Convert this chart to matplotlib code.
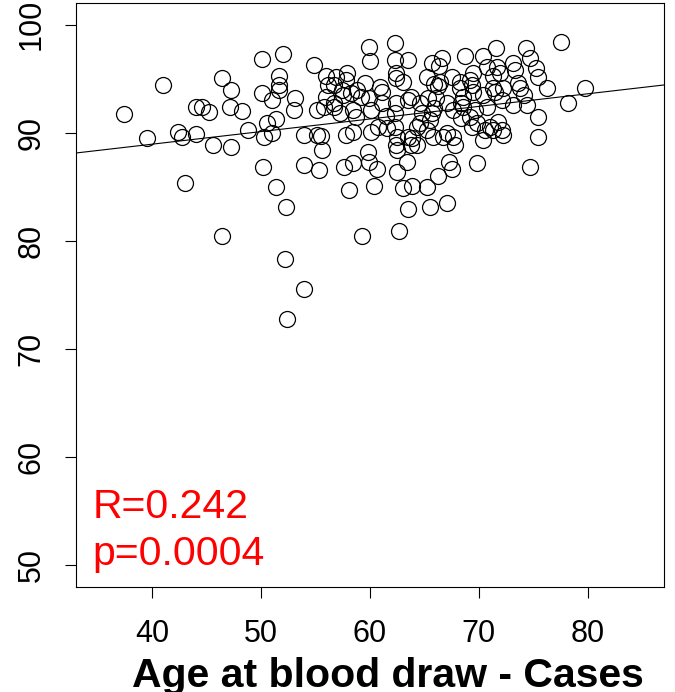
import numpy as np
import matplotlib
matplotlib.use("Agg")
import matplotlib.pyplot as plt

age = [37.4, 39.5, 41.0, 42.4, 42.7, 43.0, 44.0, 44.0, 44.6, 45.2,
       45.6, 46.4, 46.4, 47.2, 47.1, 47.2, 48.2, 48.8, 50.1, 50.1,
       50.2, 50.5, 50.3, 51.0, 51.0, 51.4, 51.4, 51.6, 51.6, 51.6,
       52.0, 52.2, 52.3, 52.4, 53.0, 53.1, 53.9, 53.9, 53.9, 54.9,
       55.1, 55.5, 55.3, 55.1, 55.6, 55.8, 56.0, 56.1, 56.7, 56.9,
       57.2, 57.4, 57.8, 57.9, 57.8, 57.6, 58.1, 58.3, 58.4, 58.4,
       58.4, 58.7, 58.8, 59.3, 59.5, 59.8, 59.9, 59.9, 60.0, 59.9,
       60.1, 60.1, 60.4, 60.6, 60.7, 60.9, 61.1, 61.1, 61.5, 61.6,
       62.3, 62.3, 62.3, 62.3, 62.4, 62.5, 62.4, 62.5, 62.5, 62.7,
       63.0, 63.0, 63.5, 63.5, 63.5, 63.4, 63.5, 63.9, 64.3, 64.3,
       64.6, 64.8, 65.2, 65.2, 65.2, 65.5, 65.7, 65.7, 65.8, 66.1,
       66.2, 66.4, 66.6, 66.7, 67.1, 67.1, 67.3, 67.5, 67.5, 67.6,
       67.6, 67.8, 68.3, 68.4, 68.5, 68.5, 68.4, 68.7, 69.2, 69.2,
       69.4, 69.5, 69.5, 69.6, 69.8, 70.4, 70.4, 70.6, 70.7, 70.7,
       71.0, 71.3, 71.6, 71.7, 71.8, 71.9, 72.1, 72.2, 72.2, 73.1,
       73.1, 73.3, 73.6, 73.8, 74.3, 74.4, 74.7, 74.7, 75.2, 75.4,
       75.4, 75.4, 76.3, 77.5, 78.2, 79.7,
       66.3, 56.0, 62.4, 65.9, 66.2, 69.4, 71.3, 56.7, 57.5, 59.2,
       62.4, 63.8, 65.3, 68.3, 71.5, 72.1, 74.1, 56.7, 65.9, 64.6,
       65.5, 69.8, 63.9, 67.1, 71.3, 63.8, 70.4]
value = [91.7, 89.5, 94.4, 90.1, 89.6, 85.4, 92.4, 89.9, 92.4, 91.9,
         88.9, 95.1, 80.5, 94.0, 92.4, 88.7, 92.0, 90.3, 96.8, 93.7,
         86.8, 90.9, 89.6, 93.0, 90.0, 91.3, 85.0, 95.3, 94.4, 94.0,
         97.3, 78.3, 83.1, 72.8, 92.1, 93.2, 75.6, 87.0, 89.8, 96.3,
         89.8, 89.7, 86.6, 92.1, 88.4, 92.4, 93.3, 94.4, 92.8, 95.2,
         91.8, 94.0, 94.9, 95.5, 89.8, 86.8, 84.7, 93.7, 92.1, 90.1,
         87.2, 91.5, 94.0, 80.5, 94.6, 88.2, 87.3, 97.9, 96.6, 93.2,
         92.1, 90.1, 85.1, 86.7, 90.5, 94.2, 93.8, 92.8, 91.6, 90.4,
         90.5, 91.8, 98.3, 96.7, 95.5, 89.6, 88.9, 88.4, 86.4, 80.9,
         94.7, 84.9, 96.7, 93.0, 89.6, 87.3, 83.0, 85.1, 90.5, 88.9,
         92.8, 91.8, 95.2, 90.3, 85.0, 83.1, 96.5, 91.8, 89.6, 93.2,
         86.0, 94.7, 96.9, 89.6, 92.8, 83.5, 87.3, 86.7, 95.2, 92.1,
         89.6, 88.9, 94.7, 92.8, 93.3, 92.4, 91.4, 97.1, 94.9, 91.5,
         90.5, 95.5, 93.8, 92.1, 87.2, 97.1, 93.5, 90.3, 96.1, 92.4,
         90.5, 94.1, 97.8, 96.1, 91.0, 95.5, 90.3, 89.8, 94.1, 92.6,
         96.5, 95.8, 94.6, 94.1, 97.8, 92.6, 96.9, 86.8, 96.0, 95.2,
         91.5, 89.6, 94.1, 98.4, 92.8, 94.1,
         96.2, 95.3, 95.1, 94.5, 94.3, 94.4, 95.3, 94.4, 93.5, 93.3,
         92.8, 93.3, 93.2, 94.1, 93.8, 93.0, 93.5, 92.4, 92.3, 90.9,
         91.2, 90.9, 89.5, 90.0, 90.3, 88.9, 89.3]

# regression line as drawn in the reference
fit_intercept = 84.29
fit_slope = 0.1165

x_ticks = [40, 50, 60, 70, 80]
y_ticks = [50, 60, 70, 80, 90, 100]
r_text = "R=0.242"
p_text = "p=0.0004"
x_label = "Age at blood draw - Cases"

fonts = ["Liberation Sans", "DejaVu Sans"]

fig = plt.figure(figsize=(6.75, 6.92), dpi=100)
ax = fig.add_axes([0.1126, 0.1517, 0.8711, 0.8439])

ax.plot(age, value, linestyle="none", marker="o", markersize=11.5,
        markerfacecolor="none", markeredgecolor="black", markeredgewidth=0.9)

xlim = (33, 87)
xs = np.array(xlim)
ax.plot(xs, fit_intercept + fit_slope * xs, color="black", linewidth=0.8)

ax.set_xlim(*xlim)
ax.set_ylim(48, 102)
ax.set_xticks(x_ticks)
ax.set_yticks(y_ticks)
ax.set_xticklabels([str(t) for t in x_ticks], family=fonts, fontsize=22)
ax.set_yticklabels([str(t) for t in y_ticks], family=fonts, fontsize=22,
                   rotation=90, va="center")
ax.tick_params(axis="both", direction="out", length=8, width=0.8)
ax.tick_params(axis="x", pad=15)
ax.tick_params(axis="y", pad=13)
for s in ax.spines.values():
    s.set_linewidth(0.8)

ax.text(34.5, 54.4, r_text, color="red", fontsize=29.5, family=fonts,
        ha="left", va="baseline")
ax.text(34.5, 50.0, p_text, color="red", fontsize=29.5, family=fonts,
        ha="left", va="baseline")

fig.text(0.575, 0.007, x_label, fontsize=29.5, fontweight="bold",
         family=fonts, ha="center", va="baseline")

fig.savefig("out.png", dpi=100)
